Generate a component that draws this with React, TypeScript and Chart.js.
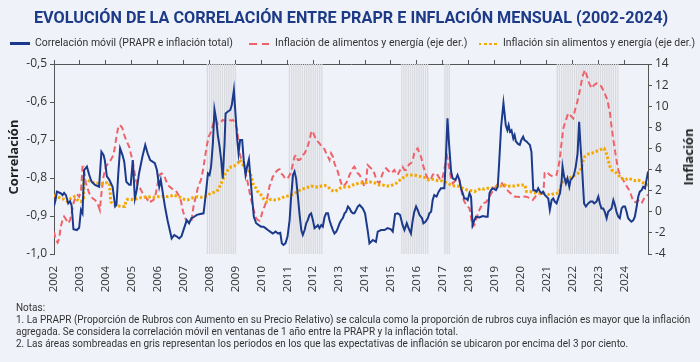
import React, { useEffect, useLayoutEffect, useRef } from "react";
import { Chart, registerables } from "chart.js";
Chart.register(...registerables);

const YEARS = [2002, 2003, 2004, 2005, 2006, 2007, 2008, 2009, 2010, 2011, 2012, 2013, 2014, 2015, 2016, 2017, 2018, 2019, 2020, 2021, 2022, 2023, 2024];
const X_MIN = 2002;
const X_MAX = 2024 + 11 / 12;
const CORR_TICKS = [-1.0, -0.9, -0.8, -0.7, -0.6, -0.5];
const INF_TICKS = [-4, -2, 0, 2, 4, 6, 8, 10, 12, 14];

const TITLE = "EVOLUCIÓN DE LA CORRELACIÓN ENTRE PRAPR E INFLACIÓN MENSUAL (2002-2024)";
const SERIES_NAMES = [
  "Correlación móvil (PRAPR e inflación total)",
  "Inflación de alimentos y energía (eje der.)",
  "Inflación sin alimentos y energía (eje der.)",
];
const AXIS_LEFT = "Correlación";
const AXIS_RIGHT = "Inflación";
const NOTES = [
  "Notas:",
  "1. La PRAPR (Proporción de Rubros con Aumento en su Precio Relativo) se calcula como la proporción de rubros cuya inflación es mayor que la inflación",
  "agregada. Se considera la correlación móvil en ventanas de 1 año entre la PRAPR y la inflación total.",
  "2. Las áreas sombreadas en gris representan los periodos en los que las expectativas de inflación se ubicaron por encima del 3 por ciento.",
];

// Periods with inflation expectations above 3% (first month, last month)
const SHADE_PERIODS: [string, string][] = [
  ["2007-12", "2009-01"],
  ["2011-02", "2012-05"],
  ["2015-06", "2016-06"],
  ["2017-02", "2017-04"],
  ["2021-06", "2023-10"],
];

// Correlación móvil (left axis)
const CORR: [number, number][] = [
  [2002.00, -0.874], [2002.06, -0.858], [2002.11, -0.836], [2002.26, -0.840], [2002.33, -0.845], [2002.39, -0.839],
  [2002.46, -0.845], [2002.55, -0.867], [2002.62, -0.861], [2002.68, -0.872], [2002.75, -0.935], [2002.88, -0.937],
  [2002.97, -0.931], [2003.04, -0.884], [2003.10, -0.893], [2003.16, -0.779], [2003.27, -0.770], [2003.36, -0.792],
  [2003.45, -0.810], [2003.58, -0.818], [2003.74, -0.823], [2003.83, -0.731], [2003.91, -0.739], [2003.96, -0.753],
  [2004.04, -0.796], [2004.13, -0.804], [2004.26, -0.823], [2004.36, -0.875], [2004.41, -0.871], [2004.48, -0.788],
  [2004.55, -0.722], [2004.64, -0.739], [2004.71, -0.757], [2004.79, -0.810], [2004.90, -0.818], [2004.96, -0.818],
  [2005.04, -0.753], [2005.12, -0.854], [2005.19, -0.832], [2005.28, -0.788], [2005.41, -0.744], [2005.52, -0.713],
  [2005.61, -0.735], [2005.71, -0.753], [2005.80, -0.757], [2005.89, -0.761], [2005.97, -0.779], [2006.06, -0.823],
  [2006.12, -0.805], [2006.19, -0.836], [2006.28, -0.875], [2006.38, -0.911], [2006.45, -0.932], [2006.54, -0.959],
  [2006.64, -0.950], [2006.74, -0.954], [2006.83, -0.959], [2006.92, -0.953], [2007.02, -0.932], [2007.12, -0.911],
  [2007.21, -0.919], [2007.30, -0.906], [2007.41, -0.902], [2007.51, -0.897], [2007.64, -0.895], [2007.77, -0.893],
  [2007.86, -0.840], [2007.94, -0.788], [2008.00, -0.792], [2008.06, -0.770], [2008.13, -0.709], [2008.19, -0.619],
  [2008.26, -0.647], [2008.32, -0.687], [2008.39, -0.718], [2008.45, -0.753], [2008.51, -0.801], [2008.58, -0.709],
  [2008.62, -0.630], [2008.71, -0.625], [2008.80, -0.621], [2008.86, -0.608], [2008.94, -0.568], [2009.00, -0.630],
  [2009.07, -0.700], [2009.12, -0.735], [2009.18, -0.700], [2009.26, -0.700], [2009.32, -0.753], [2009.39, -0.792],
  [2009.45, -0.770], [2009.52, -0.751], [2009.57, -0.792], [2009.65, -0.858], [2009.71, -0.902], [2009.80, -0.919],
  [2009.90, -0.924], [2009.99, -0.928], [2010.08, -0.928], [2010.16, -0.932], [2010.25, -0.937], [2010.34, -0.941],
  [2010.44, -0.946], [2010.55, -0.941], [2010.64, -0.946], [2010.73, -0.944], [2010.79, -0.972], [2010.85, -0.976],
  [2010.93, -0.972], [2011.01, -0.954], [2011.09, -0.911], [2011.15, -0.849], [2011.22, -0.792], [2011.28, -0.783],
  [2011.34, -0.801], [2011.41, -0.849], [2011.47, -0.893], [2011.54, -0.937], [2011.60, -0.950], [2011.67, -0.937],
  [2011.73, -0.919], [2011.79, -0.911], [2011.86, -0.897], [2011.92, -0.893], [2011.99, -0.911], [2012.05, -0.932],
  [2012.12, -0.928], [2012.18, -0.924], [2012.24, -0.932], [2012.31, -0.924], [2012.37, -0.928], [2012.44, -0.902],
  [2012.50, -0.893], [2012.57, -0.893], [2012.63, -0.911], [2012.69, -0.924], [2012.76, -0.937], [2012.82, -0.946],
  [2012.89, -0.941], [2012.95, -0.932], [2013.02, -0.919], [2013.08, -0.911], [2013.14, -0.906], [2013.21, -0.893],
  [2013.27, -0.889], [2013.34, -0.875], [2013.40, -0.880], [2013.47, -0.889], [2013.53, -0.893], [2013.59, -0.893],
  [2013.66, -0.884], [2013.72, -0.875], [2013.79, -0.871], [2013.91, -0.880], [2014.00, -0.893], [2014.10, -0.937],
  [2014.17, -0.972], [2014.30, -0.963], [2014.42, -0.968], [2014.49, -0.941], [2014.62, -0.937], [2014.75, -0.937],
  [2014.87, -0.932], [2015.00, -0.935], [2015.07, -0.941], [2015.16, -0.895], [2015.26, -0.893], [2015.35, -0.897],
  [2015.45, -0.924], [2015.52, -0.937], [2015.61, -0.919], [2015.68, -0.932], [2015.77, -0.946], [2015.84, -0.911],
  [2015.90, -0.889], [2015.97, -0.875], [2016.03, -0.884], [2016.10, -0.897], [2016.20, -0.906], [2016.25, -0.919],
  [2016.33, -0.915], [2016.42, -0.906], [2016.48, -0.893], [2016.55, -0.889], [2016.61, -0.858], [2016.67, -0.845],
  [2016.76, -0.849], [2016.84, -0.836], [2016.93, -0.827], [2017.06, -0.827], [2017.12, -0.744], [2017.18, -0.643],
  [2017.23, -0.700], [2017.32, -0.783], [2017.38, -0.801], [2017.49, -0.805], [2017.57, -0.792], [2017.64, -0.805],
  [2017.70, -0.827], [2017.77, -0.840], [2017.83, -0.854], [2017.90, -0.854], [2017.96, -0.858], [2018.03, -0.840],
  [2018.09, -0.849], [2018.15, -0.924], [2018.22, -0.911], [2018.28, -0.902], [2018.41, -0.904], [2018.54, -0.900],
  [2018.67, -0.902], [2018.73, -0.902], [2018.80, -0.840], [2018.86, -0.832], [2018.93, -0.827], [2019.05, -0.832],
  [2019.12, -0.823], [2019.18, -0.753], [2019.25, -0.665], [2019.34, -0.603], [2019.43, -0.661], [2019.49, -0.674],
  [2019.54, -0.661], [2019.59, -0.678], [2019.65, -0.674], [2019.72, -0.696], [2019.77, -0.687], [2019.82, -0.704],
  [2019.91, -0.711], [2019.97, -0.713], [2020.03, -0.700], [2020.10, -0.691], [2020.15, -0.700], [2020.23, -0.704],
  [2020.30, -0.709], [2020.36, -0.713], [2020.42, -0.731], [2020.49, -0.832], [2020.55, -0.832], [2020.62, -0.836],
  [2020.68, -0.827], [2020.75, -0.836], [2020.81, -0.840], [2020.87, -0.836], [2020.94, -0.845], [2021.00, -0.849],
  [2021.07, -0.854], [2021.13, -0.884], [2021.20, -0.858], [2021.26, -0.854], [2021.32, -0.862], [2021.39, -0.867],
  [2021.45, -0.854], [2021.52, -0.840], [2021.58, -0.810], [2021.62, -0.770], [2021.68, -0.796], [2021.75, -0.814],
  [2021.81, -0.801], [2021.88, -0.823], [2021.93, -0.805], [2021.99, -0.801], [2022.06, -0.792], [2022.13, -0.770],
  [2022.20, -0.735], [2022.26, -0.652], [2022.32, -0.722], [2022.37, -0.770], [2022.45, -0.867], [2022.52, -0.875],
  [2022.61, -0.867], [2022.70, -0.862], [2022.78, -0.862], [2022.84, -0.867], [2022.93, -0.862], [2023.00, -0.849],
  [2023.06, -0.867], [2023.12, -0.880], [2023.19, -0.880], [2023.25, -0.889], [2023.32, -0.906], [2023.38, -0.889],
  [2023.45, -0.884], [2023.51, -0.880], [2023.58, -0.858], [2023.64, -0.871], [2023.70, -0.889], [2023.77, -0.902],
  [2023.83, -0.906], [2023.90, -0.880], [2023.96, -0.875], [2024.03, -0.875], [2024.09, -0.889], [2024.15, -0.906],
  [2024.22, -0.911], [2024.28, -0.915], [2024.35, -0.911], [2024.41, -0.902], [2024.48, -0.875], [2024.54, -0.849],
  [2024.60, -0.836], [2024.67, -0.832], [2024.73, -0.823], [2024.80, -0.827], [2024.86, -0.805], [2024.92, -0.783],
];

// Inflación de alimentos y energía (right axis)
const INF_AE: [number, number][] = [
  [2002.00, -1.88], [2002.07, -2.67], [2002.14, -2.92], [2002.20, -2.51], [2002.26, -1.41], [2002.33, -0.78],
  [2002.39, -0.46], [2002.46, -0.71], [2002.55, -1.09], [2002.62, -0.78], [2002.68, -0.15], [2002.75, 0.80],
  [2002.84, 1.43], [2002.91, 1.59], [2002.97, 1.43], [2003.04, 1.91], [2003.10, 4.27], [2003.14, 4.27],
  [2003.23, 2.70], [2003.36, 1.75], [2003.49, 1.27], [2003.58, 1.12], [2003.68, 0.80], [2003.77, 0.17],
  [2003.83, 1.75], [2003.91, 3.33], [2004.00, 4.27], [2004.09, 4.59], [2004.19, 4.91], [2004.26, 5.22],
  [2004.32, 5.70], [2004.39, 6.80], [2004.48, 8.06], [2004.55, 8.22], [2004.64, 7.91], [2004.71, 7.27],
  [2004.81, 6.64], [2004.90, 6.17], [2004.96, 5.54], [2005.03, 4.91], [2005.09, 3.96], [2005.16, 3.01],
  [2005.22, 2.54], [2005.32, 2.22], [2005.41, 1.81], [2005.48, 1.59], [2005.61, 1.12], [2005.67, 1.27],
  [2005.74, 0.96], [2005.84, 1.12], [2005.93, 1.75], [2005.99, 2.54], [2006.06, 3.49], [2006.15, 3.64],
  [2006.25, 3.49], [2006.31, 3.01], [2006.40, 2.50], [2006.55, 2.20], [2006.70, 2.00], [2006.80, 1.60],
  [2006.90, 1.00], [2006.98, 0.00], [2007.09, -0.78], [2007.22, -1.03], [2007.31, -0.78], [2007.38, 0.49],
  [2007.47, 1.43], [2007.56, 2.38], [2007.67, 3.01], [2007.76, 4.10], [2007.84, 5.40], [2007.90, 6.33],
  [2007.97, 7.12], [2008.06, 7.59], [2008.13, 8.22], [2008.19, 8.76], [2008.26, 8.54], [2008.32, 8.32],
  [2008.39, 8.44], [2008.45, 8.54], [2008.51, 8.70], [2008.58, 8.63], [2008.64, 8.70], [2008.71, 8.76],
  [2008.77, 8.70], [2008.84, 8.63], [2008.90, 8.70], [2008.96, 8.54], [2009.03, 8.06], [2009.07, 7.75],
  [2009.12, 6.49], [2009.16, 5.54], [2009.22, 5.06], [2009.29, 4.91], [2009.35, 4.27], [2009.41, 3.49],
  [2009.48, 2.70], [2009.54, 1.91], [2009.61, 1.12], [2009.67, 0.49], [2009.74, -0.15], [2009.80, -0.62],
  [2009.86, -0.78], [2009.93, -0.84], [2009.99, -0.46], [2010.06, 0.17], [2010.12, 0.49], [2010.19, 0.96],
  [2010.25, 1.59], [2010.31, 2.38], [2010.38, 2.85], [2010.44, 3.33], [2010.51, 3.49], [2010.57, 3.80],
  [2010.64, 3.96], [2010.70, 4.02], [2010.76, 3.64], [2010.83, 3.49], [2010.89, 3.26], [2010.96, 3.33],
  [2011.02, 3.17], [2011.09, 3.49], [2011.15, 3.80], [2011.22, 4.59], [2011.28, 5.22], [2011.34, 5.38],
  [2011.41, 4.91], [2011.47, 4.91], [2011.54, 5.06], [2011.60, 5.38], [2011.67, 5.54], [2011.73, 5.85],
  [2011.79, 6.23], [2011.86, 6.80], [2011.92, 7.50], [2011.96, 7.68], [2012.01, 7.43], [2012.09, 6.96],
  [2012.18, 6.64], [2012.24, 6.49], [2012.31, 6.23], [2012.37, 6.11], [2012.44, 5.92], [2012.50, 5.54],
  [2012.57, 5.22], [2012.63, 4.91], [2012.69, 5.54], [2012.76, 5.22], [2012.82, 4.59], [2012.89, 4.12],
  [2012.95, 3.80], [2013.02, 3.17], [2013.08, 2.70], [2013.14, 2.38], [2013.21, 2.54], [2013.27, 2.70],
  [2013.34, 3.01], [2013.40, 3.49], [2013.47, 3.80], [2013.53, 4.12], [2013.59, 4.27], [2013.66, 3.96],
  [2013.72, 3.64], [2013.79, 3.49], [2013.88, 3.00], [2013.97, 2.38], [2014.04, 2.85], [2014.10, 4.43],
  [2014.17, 4.27], [2014.23, 4.12], [2014.30, 3.96], [2014.36, 3.64], [2014.42, 3.17], [2014.49, 2.85],
  [2014.55, 2.70], [2014.68, 3.64], [2014.75, 3.96], [2014.81, 4.12], [2014.87, 3.96], [2014.94, 3.80],
  [2015.00, 3.64], [2015.07, 3.80], [2015.13, 3.96], [2015.20, 3.64], [2015.26, 3.49], [2015.32, 3.80],
  [2015.39, 4.12], [2015.45, 4.27], [2015.52, 3.96], [2015.58, 3.96], [2015.65, 4.27], [2015.71, 4.53],
  [2015.77, 4.59], [2015.84, 4.91], [2015.90, 5.54], [2015.97, 5.85], [2016.03, 6.01], [2016.10, 5.54],
  [2016.16, 5.22], [2016.22, 4.59], [2016.29, 3.96], [2016.35, 3.49], [2016.42, 3.17], [2016.48, 3.01],
  [2016.55, 3.17], [2016.61, 3.49], [2016.67, 3.64], [2016.74, 3.49], [2016.80, 3.49], [2016.87, 3.17],
  [2016.93, 3.01], [2017.00, 3.33], [2017.13, 4.91], [2017.17, 5.22], [2017.26, 3.96], [2017.32, 3.17],
  [2017.39, 2.70], [2017.51, 3.01], [2017.64, 3.01], [2017.70, 2.22], [2017.76, 1.43], [2017.83, 0.96],
  [2017.96, 0.49], [2018.03, 0.33], [2018.15, -1.41], [2018.22, -1.25], [2018.28, -0.78], [2018.41, 0.17],
  [2018.54, 0.80], [2018.67, 0.90], [2018.80, 1.43], [2018.93, 2.00], [2019.05, 2.40], [2019.15, 2.70],
  [2019.25, 2.80], [2019.40, 2.30], [2019.55, 1.90], [2019.75, 1.45], [2019.95, 1.40], [2020.10, 1.45],
  [2020.22, 1.43], [2020.35, 1.30], [2020.47, 1.12], [2020.60, 1.50], [2020.75, 1.65], [2020.88, 1.75],
  [2020.93, 3.70], [2021.00, 3.80], [2021.13, 3.49], [2021.26, 3.33], [2021.39, 3.50], [2021.49, 4.59],
  [2021.58, 6.49], [2021.65, 7.91], [2021.75, 8.70], [2021.84, 9.33], [2021.94, 9.10], [2022.03, 8.85],
  [2022.10, 9.64], [2022.19, 10.43], [2022.29, 11.54], [2022.39, 12.80], [2022.48, 13.43], [2022.55, 12.96],
  [2022.65, 12.17], [2022.74, 11.69], [2022.83, 12.00], [2022.93, 12.17], [2023.03, 12.10], [2023.12, 11.85],
  [2023.22, 11.38], [2023.35, 10.59], [2023.45, 9.33], [2023.51, 8.06], [2023.58, 6.80], [2023.64, 5.85],
  [2023.70, 4.91], [2023.77, 3.96], [2023.86, 3.33], [2023.96, 3.01], [2024.03, 2.70], [2024.15, 2.20],
  [2024.22, 1.91], [2024.35, 0.96], [2024.45, 0.90], [2024.54, 1.10], [2024.67, 0.80], [2024.80, 1.43],
  [2024.92, 1.60],
];

// Inflación sin alimentos y energía (right axis)
const INF_SAE: [number, number][] = [
  [2002.00, 1.59], [2002.14, 1.43], [2002.26, 1.27], [2002.39, 1.18], [2002.52, 0.96], [2002.65, 1.27],
  [2002.78, 1.43], [2002.91, 1.12], [2003.04, 0.96], [2003.14, 1.27], [2003.16, 3.01], [2003.29, 3.01],
  [2003.42, 2.85], [2003.55, 2.76], [2003.68, 2.70], [2003.81, 2.63], [2003.94, 2.70], [2004.06, 2.76],
  [2004.14, 2.70], [2004.19, 0.96], [2004.26, 0.74], [2004.39, 0.64], [2004.51, 0.55], [2004.64, 0.49],
  [2004.73, 0.49], [2004.77, 0.96], [2004.84, 1.18], [2004.96, 1.18], [2005.09, 1.12], [2005.22, 1.27],
  [2005.35, 1.34], [2005.48, 1.37], [2005.61, 1.37], [2005.74, 1.43], [2005.86, 1.37], [2005.99, 1.43],
  [2006.12, 1.43], [2006.25, 1.50], [2006.38, 1.43], [2006.51, 1.50], [2006.64, 1.59], [2006.77, 1.43],
  [2006.90, 1.34], [2007.02, 1.18], [2007.15, 1.12], [2007.28, 1.27], [2007.41, 1.37], [2007.54, 1.43],
  [2007.66, 1.37], [2007.79, 1.43], [2007.92, 1.50], [2008.00, 1.69], [2008.13, 1.81], [2008.26, 1.91],
  [2008.32, 2.06], [2008.39, 2.38], [2008.45, 2.70], [2008.51, 3.01], [2008.58, 3.49], [2008.71, 3.96],
  [2008.84, 4.27], [2008.96, 4.34], [2009.09, 4.59], [2009.16, 4.91], [2009.22, 4.75], [2009.29, 4.43],
  [2009.35, 4.27], [2009.41, 4.12], [2009.48, 4.02], [2009.54, 3.80], [2009.61, 3.33], [2009.67, 2.70],
  [2009.74, 2.38], [2009.80, 2.22], [2009.86, 1.91], [2009.99, 1.59], [2010.12, 1.12], [2010.19, 0.96],
  [2010.25, 0.96], [2010.31, 1.12], [2010.38, 1.18], [2010.51, 1.12], [2010.64, 1.18], [2010.76, 1.27],
  [2010.89, 1.43], [2011.02, 1.50], [2011.15, 1.59], [2011.28, 1.75], [2011.41, 1.91], [2011.54, 2.13],
  [2011.67, 2.22], [2011.79, 2.32], [2011.92, 2.44], [2012.05, 2.38], [2012.18, 2.32], [2012.31, 2.44],
  [2012.44, 2.51], [2012.57, 2.38], [2012.69, 2.06], [2012.82, 1.91], [2012.89, 2.00], [2013.02, 2.22],
  [2013.14, 2.32], [2013.27, 2.38], [2013.40, 2.38], [2013.53, 2.54], [2013.66, 2.63], [2013.79, 2.76],
  [2013.92, 2.76], [2014.04, 2.76], [2014.17, 2.85], [2014.30, 2.76], [2014.42, 2.70], [2014.55, 2.54],
  [2014.68, 2.54], [2014.81, 2.44], [2014.94, 2.44], [2015.07, 2.54], [2015.20, 2.70], [2015.32, 2.95],
  [2015.45, 3.17], [2015.52, 3.39], [2015.65, 3.49], [2015.77, 3.49], [2015.90, 3.49], [2016.03, 3.39],
  [2016.16, 3.33], [2016.29, 3.26], [2016.35, 3.17], [2016.46, 3.01], [2016.55, 3.07], [2016.67, 3.07],
  [2016.80, 2.95], [2016.93, 2.95], [2017.06, 2.85], [2017.19, 2.70], [2017.32, 2.54], [2017.45, 2.44],
  [2017.58, 2.44], [2017.70, 2.32], [2017.83, 2.13], [2017.96, 2.06], [2018.09, 2.00], [2018.22, 1.91],
  [2018.35, 2.06], [2018.48, 2.22], [2018.60, 2.13], [2018.73, 2.22], [2018.86, 2.22], [2018.99, 2.32],
  [2019.12, 2.44], [2019.25, 2.44], [2019.38, 2.54], [2019.50, 2.38], [2019.59, 2.44], [2019.78, 2.44],
  [2019.97, 2.54], [2020.17, 2.54], [2020.23, 1.91], [2020.36, 1.91], [2020.49, 1.81], [2020.62, 1.81],
  [2020.75, 1.75], [2020.87, 1.75], [2021.00, 1.69], [2021.13, 1.59], [2021.26, 1.69], [2021.39, 1.75],
  [2021.49, 1.81], [2021.58, 2.70], [2021.71, 3.01], [2021.84, 3.17], [2021.97, 3.26], [2022.10, 3.49],
  [2022.22, 3.64], [2022.35, 4.12], [2022.42, 4.91], [2022.48, 5.22], [2022.61, 5.47], [2022.74, 5.54],
  [2022.87, 5.70], [2023.00, 5.79], [2023.12, 5.92], [2023.22, 6.01], [2023.29, 5.70], [2023.38, 4.91],
  [2023.45, 4.27], [2023.51, 3.96], [2023.64, 3.80], [2023.77, 3.49], [2023.90, 3.17], [2024.03, 3.01],
  [2024.15, 3.17], [2024.28, 3.07], [2024.41, 2.95], [2024.54, 3.01], [2024.67, 2.85], [2024.80, 2.63],
  [2024.92, 2.54],
];

const BLUE = "#1b3a8c";
const RED = "#f0626a";
const ORANGE = "#f5a800";
const NAVY = "#1d3a87";
const BG = "#eff2f9";
const AXIS = "#555555";
const TEXT = "#333333";
const FONT = '"Roboto", "Liberation Sans", sans-serif';
const SANS = '"Open Sans", "Noto Sans", sans-serif';

function monthValue(s: string): number {
  const [y, m] = s.split("-").map(Number);
  return y + (m - 1) / 12;
}

function shadeMonths(): number[] {
  const out: number[] = [];
  for (const [a, b] of SHADE_PERIODS) {
    const start = Math.round(monthValue(a) * 12);
    const end = Math.round(monthValue(b) * 12);
    for (let k = start; k <= end; k++) out.push(k / 12);
  }
  return out;
}

const CANVAS_H = 300;

// Text condensed horizontally to a target width (narrow fonts are not installed)
function FitText(props: { left: number; top: number; width: number; style: React.CSSProperties; children: React.ReactNode }) {
  const ref = useRef<HTMLSpanElement | null>(null);
  useLayoutEffect(() => {
    const el = ref.current;
    if (!el) return;
    const apply = () => {
      const w = el.offsetWidth;
      if (w > 0) el.style.transform = `scaleX(${props.width / w})`;
    };
    apply();
    const f = (document as any).fonts;
    if (f && f.ready) f.ready.then(apply);
  }, [props.width]);
  return (
    <span
      ref={ref}
      style={{
        position: "absolute",
        left: props.left,
        top: props.top,
        display: "inline-block",
        whiteSpace: "nowrap",
        transformOrigin: "0 0",
        ...props.style,
      }}
    >
      {props.children}
    </span>
  );
}

function Notes() {
  const refs = useRef<(HTMLSpanElement | null)[]>([]);
  useLayoutEffect(() => {
    const apply = () => {
      const ref1 = refs.current[1];
      if (!ref1) return;
      const k = 674 / ref1.offsetWidth;
      refs.current.forEach((el) => {
        if (el) el.style.transform = `scaleX(${k})`;
      });
    };
    apply();
    const f = (document as any).fonts;
    if (f && f.ready) f.ready.then(apply);
  }, []);
  return (
    <>
      {NOTES.map((n, i) => (
        <span
          key={i}
          ref={(el) => {
            refs.current[i] = el;
          }}
          style={{
            position: "absolute",
            left: 15.5,
            top: 302.4 + i * 11.85,
            display: "inline-block",
            whiteSpace: "nowrap",
            transformOrigin: "0 0",
            fontFamily: FONT,
            fontSize: 10.5,
            lineHeight: "12px",
            color: TEXT,
          }}
        >
          {n}
        </span>
      ))}
    </>
  );
}

export default function App() {
  const ref = useRef<HTMLCanvasElement | null>(null);

  useEffect(() => {
    document.body.style.margin = "0";
    const canvas = ref.current;
    if (!canvas) return;
    const yearTicks = (s: any) => {
      s.ticks = YEARS.map((v) => ({ value: v }));
    };
    const chart = new Chart(canvas, {
      type: "line",
      data: {
        datasets: [
          {
            type: "line",
            label: SERIES_NAMES[0],
            data: CORR.map(([x, y]) => ({ x, y })),
            xAxisID: "x",
            yAxisID: "y",
            borderColor: BLUE,
            borderWidth: 2,
            pointRadius: 0,
            tension: 0,
            order: 0,
          },
          {
            type: "line",
            label: SERIES_NAMES[2],
            data: INF_SAE.map(([x, y]) => ({ x, y })),
            xAxisID: "x",
            yAxisID: "y2",
            borderColor: ORANGE,
            borderWidth: 3,
            borderDash: [2.5, 2],
            pointRadius: 0,
            tension: 0,
            order: 1,
          },
          {
            type: "line",
            label: SERIES_NAMES[1],
            data: INF_AE.map(([x, y]) => ({ x, y })),
            xAxisID: "x",
            yAxisID: "y2",
            borderColor: RED,
            borderWidth: 2,
            borderDash: [6, 3.5],
            pointRadius: 0,
            tension: 0,
            order: 2,
          },
          {
            type: "bar",
            label: "shade",
            data: shadeMonths().map((x) => ({ x, y: 1 })),
            xAxisID: "x",
            yAxisID: "yS",
            backgroundColor: "#d9dade",
            categoryPercentage: 1,
            barPercentage: 0.6,
            order: 3,
          } as any,
        ],
      },
      options: {
        animation: false,
        responsive: false,
        maintainAspectRatio: false,
        layout: { padding: 0 },
        plugins: {
          legend: { display: false },
          tooltip: { enabled: false },
          title: { display: false },
        },
        scales: {
          x: {
            type: "linear",
            position: "bottom",
            min: X_MIN,
            max: X_MAX,
            offset: false,
            afterBuildTicks: yearTicks,
            afterFit: (s: any) => {
              s.height = CANVAS_H - 254;
            },
            ticks: {
              autoSkip: false,
              minRotation: 90,
              maxRotation: 90,
              padding: 4,
              color: TEXT,
              font: { family: SANS, size: 11.5 },
              callback: (v: any) => String(v),
            },
            grid: { display: false },
            border: { display: false },
          },
          x2: {
            type: "linear",
            position: "top",
            min: X_MIN,
            max: X_MAX,
            offset: false,
            afterBuildTicks: yearTicks,
            afterFit: (s: any) => {
              s.height = 64;
            },
            ticks: { display: false },
            grid: { drawOnChartArea: false, drawTicks: true, tickLength: 4, color: AXIS },
            border: { display: true, color: AXIS, width: 1 },
          },
          y: {
            position: "left",
            min: -1,
            max: -0.5,
            afterBuildTicks: (s: any) => {
              s.ticks = CORR_TICKS.map((v) => ({ value: v }));
            },
            afterFit: (s: any) => {
              s.width = 54;
            },
            ticks: {
              padding: 3,
              color: TEXT,
              font: { family: SANS, size: 12 },
              callback: (v: any) => Number(v).toFixed(1).replace(".", ","),
            },
            grid: { drawOnChartArea: false, drawTicks: true, tickLength: 4, color: AXIS },
            border: { display: true, color: AXIS, width: 1 },
          },
          y2: {
            position: "right",
            min: -4,
            max: 14,
            afterBuildTicks: (s: any) => {
              s.ticks = INF_TICKS.map((v) => ({ value: v }));
            },
            afterFit: (s: any) => {
              s.width = 52;
            },
            ticks: {
              padding: 3,
              color: TEXT,
              font: { family: SANS, size: 12 },
              callback: (v: any) => String(v),
            },
            grid: { drawOnChartArea: false, drawTicks: true, tickLength: 4, color: AXIS },
            border: { display: true, color: AXIS, width: 1 },
          },
          yS: { display: false, min: 0, max: 1 },
        },
      } as any,
    });
    return () => chart.destroy();
  }, []);

  const legendText: React.CSSProperties = {
    fontFamily: FONT,
    fontSize: 10.5,
    lineHeight: "12px",
    color: TEXT,
  };

  return (
    <div style={{ position: "relative", width: 700, height: 362, background: BG, overflow: "hidden" }}>
      <canvas ref={ref} width={700} height={CANVAS_H} style={{ position: "absolute", left: 0, top: 0, width: 700, height: CANVAS_H }} />
      <FitText
        left={33.5}
        top={7}
        width={634}
        style={{ fontFamily: FONT, fontWeight: 700, fontSize: 17, lineHeight: "20px", color: NAVY }}
      >
        {TITLE}
      </FitText>
      {/* legend */}
      <div style={{ position: "absolute", left: 10, top: 42, width: 20, height: 2.5, background: BLUE }} />
      <FitText left={35} top={37.1} width={198.3} style={legendText}>
        {SERIES_NAMES[0]}
      </FitText>
      <div style={{ position: "absolute", left: 249.3, top: 42.8, width: 7.4, height: 2.5, background: RED }} />
      <div style={{ position: "absolute", left: 261.8, top: 42.8, width: 7.4, height: 2.5, background: RED }} />
      <FitText left={275} top={37.1} width={192.3} style={legendText}>
        {SERIES_NAMES[1]}
      </FitText>
      {[0, 1, 2, 3].map((i) => (
        <div key={i} style={{ position: "absolute", left: 478.5 + i * 5.3, top: 42.5, width: 2.8, height: 2.8, background: ORANGE }} />
      ))}
      <FitText left={503.3} top={37.1} width={191.7} style={legendText}>
        {SERIES_NAMES[2]}
      </FitText>
      {/* axis titles */}
      <div
        style={{
          position: "absolute",
          left: 13,
          top: 157,
          transform: "translate(-50%, -50%) rotate(-90deg)",
          fontFamily: SANS,
          fontWeight: 700,
          fontSize: 13,
          color: "#222",
          whiteSpace: "nowrap",
        }}
      >
        {AXIS_LEFT}
      </div>
      <div
        style={{
          position: "absolute",
          left: 688,
          top: 157,
          transform: "translate(-50%, -50%) rotate(-90deg)",
          fontFamily: SANS,
          fontWeight: 700,
          fontSize: 13,
          color: "#222",
          whiteSpace: "nowrap",
        }}
      >
        {AXIS_RIGHT}
      </div>
      <Notes />
    </div>
  );
}
